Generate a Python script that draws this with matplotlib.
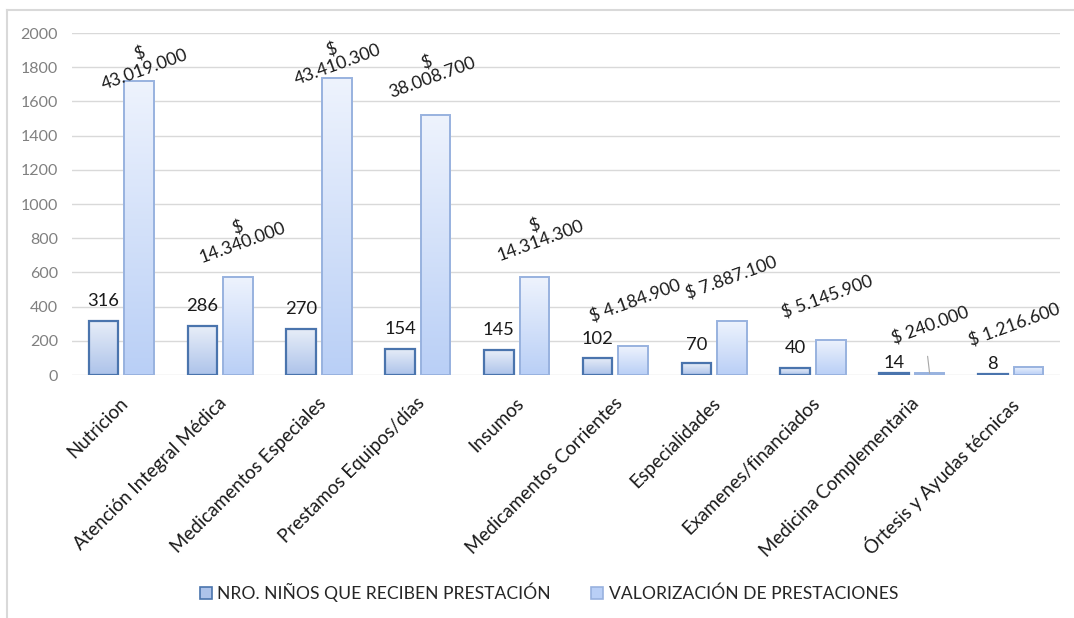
"""Prestaciones: niños atendidos vs valorización, barras agrupadas con degradé."""
import matplotlib
matplotlib.use("Agg")
import matplotlib.pyplot as plt
import matplotlib.patches as mpatches
import matplotlib.transforms as mtransforms
from matplotlib.lines import Line2D
from matplotlib.colors import LinearSegmentedColormap
import numpy as np

plt.rcParams["font.family"] = ["Lato", "DejaVu Sans"]

CATEGORIAS = [
    "Nutricion", "Atención Integral Médica", "Medicamentos Especiales",
    "Prestamos Equipos/días", "Insumos", "Medicamentos Corrientes",
    "Especialidades", "Examenes/financiados", "Medicina Complementaria",
    "Órtesis y Ayudas técnicas",
]
NINOS = [316, 286, 270, 154, 145, 102, 70, 40, 14, 8]
# bar heights of the valuation series, as drawn on the shared axis
VALOR_ALTURA = [1721, 574, 1736, 1520, 573, 167, 315, 206, 10, 49]
VALOR_ETIQUETA = [
    "$\n43.019.000", "$\n14.340.000", "$\n43.410.300", "$\n38.008.700",
    "$\n14.314.300", "$ 4.184.900", "$ 7.887.100", "$ 5.145.900",
    "$ 240.000", "$ 1.216.600",
]
SERIES = ["NRO. NIÑOS QUE RECIBEN PRESTACIÓN", "VALORIZACIÓN DE PRESTACIONES"]

# label offsets in pixels (dx, dy) from the top of each bar
OFF_NINOS = [20, 20, 20, 20, 20, 19, 18, 20, 10, 10]
OFF_VALOR = [(3, 19), (2, 42), (-2, 21), (-6, 45), (3, 44),
             (2, 46), (-1, 43), (-3, 43), (1, 48), (-14, 42)]

EDGE = ["#4a74ad", "#98b2df"]
GRAD = [("#e8eef8", "#adc3ea"), ("#eef3fd", "#b9cff6")]

fig = plt.figure(figsize=(10.74, 6.18), dpi=100)
ax = fig.add_axes([0.067, 0.3932, 0.920, 0.5534])

x = np.arange(len(CATEGORIAS))
w = 0.30
sep = 0.18

grad = np.linspace(0, 1, 256).reshape(-1, 1)


def gradient_bars(xs, hs, k):
    cmap = LinearSegmentedColormap.from_list(f"g{k}", [GRAD[k][1], GRAD[k][0]])
    bars = ax.bar(xs, hs, width=w, facecolor="none", edgecolor=EDGE[k],
                  linewidth=1.6 if k == 0 else 1.4, zorder=3)
    for b in bars:
        x0, y0 = b.get_x(), b.get_y()
        im = ax.imshow(grad, cmap=cmap, aspect="auto", origin="lower",
                       extent=[x0, x0 + b.get_width(), y0, y0 + b.get_height()],
                       zorder=2, vmin=0, vmax=1)
        im.set_clip_path(b)
    return bars


b1 = gradient_bars(x - sep, NINOS, 0)
b2 = gradient_bars(x + sep, VALOR_ALTURA, 1)

ax.set_xlim(-0.5, len(CATEGORIAS) - 0.5)
ax.set_ylim(0, 2000)
ax.set_yticks(range(0, 2001, 200))
ax.tick_params(axis="y", length=0, pad=10, labelsize=11.5, labelcolor="#808080")
ax.tick_params(axis="x", length=0, pad=14)
ax.grid(axis="y", color="#d9d9d9", linewidth=1.0, zorder=0)
ax.set_axisbelow(True)
for s in ax.spines.values():
    s.set_visible(False)

ax.set_xticks(x)
ax.set_xticklabels(CATEGORIAS, rotation=45, ha="right", rotation_mode="anchor",
                   fontsize=13.5, color="#1a1a1a")
shift = mtransforms.ScaledTranslation(-0.02, 0, fig.dpi_scale_trans)
for tl in ax.get_xticklabels():
    tl.set_transform(tl.get_transform() + shift)


def px_offset(dx, dy):
    return ax.transData + mtransforms.ScaledTranslation(dx / 100, dy / 100, fig.dpi_scale_trans)


for b, v, dy in zip(b1, NINOS, OFF_NINOS):
    ax.text(b.get_x() + b.get_width() / 2, b.get_height(), str(v),
            transform=px_offset(0, dy), ha="center", va="center",
            fontsize=13.2, color="#1a1a1a")

for i, (b, txt, (dx, dy)) in enumerate(zip(b2, VALOR_ETIQUETA, OFF_VALOR)):
    xc, top = b.get_x() + b.get_width() / 2, b.get_height()
    ax.text(xc, top, txt, transform=px_offset(dx, dy), ha="center", va="center",
            rotation=20, rotation_mode="anchor", multialignment="center",
            linespacing=1.05, fontsize=12.8, color="#1a1a1a")
    if i == 8:
        # leader line of the moved label
        ax.annotate("", xy=(xc, top), xytext=(-2, 17), textcoords="offset pixels",
                    arrowprops=dict(arrowstyle="-", color="#a6a6a6", lw=0.8,
                                    shrinkA=0, shrinkB=0))

handles = [mpatches.Patch(facecolor=GRAD[k][1], edgecolor=EDGE[k], linewidth=1.2,
                          label=SERIES[k]) for k in range(2)]
fig.legend(handles=handles, loc="center", bbox_to_anchor=(0.511, 0.042),
           ncol=2, frameon=False, fontsize=12.6, handlelength=0.7,
           handleheight=0.7, handletextpad=0.3, columnspacing=2.3,
           labelcolor="#262626")

# chart-area frame, cropped at right and bottom
fig.add_artist(Line2D([0.0065, 0.0065], [0, 1 - 10 / 618], transform=fig.transFigure,
                      color="#d9d9d9", lw=1.5))
fig.add_artist(Line2D([0.0065, 1], [1 - 10 / 618, 1 - 10 / 618], transform=fig.transFigure,
                      color="#d9d9d9", lw=1.5))

fig.savefig("out.png", dpi=100)
